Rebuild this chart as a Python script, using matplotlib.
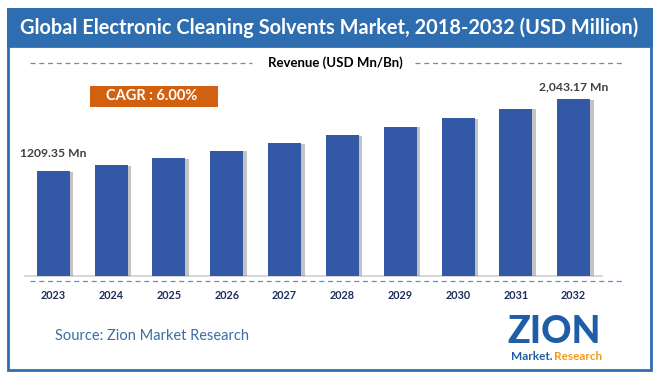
import matplotlib
matplotlib.use("Agg")
import matplotlib.pyplot as plt
import matplotlib.patches as patches
import matplotlib.patheffects as pe

# chart data
years = ["2023", "2024", "2025", "2026", "2027", "2028", "2029", "2030", "2031", "2032"]
revenue = [1209.35, 1282.0, 1362.0, 1447.0, 1535.0, 1627.0, 1722.0, 1823.0, 1930.0, 2043.17]
first_label = "1209.35 Mn"
last_label = "2,043.17 Mn"
title = "Global Electronic Cleaning Solvents Market, 2018-2032 (USD Million)"
cagr_text = "CAGR : 6.00%"
legend_text = "Revenue (USD Mn/Bn)"
source_text = "Source: Zion Market Research"

W, H = 658, 377
FONT = ["Lato", "DejaVu Sans"]

def fx(x):
    return x / W

def fy(y):
    return 1 - y / H

fig = plt.figure(figsize=(W / 100, H / 100), dpi=100)
fig.patch.set_facecolor("white")

border_blue = "#2E6EB0"

# outer frame + title band
fig.patches.append(patches.Rectangle((fx(7.5), fy(369.5)), fx(651) - fx(7.5), fy(8.5) - fy(369.5),
                                     transform=fig.transFigure, fill=False, edgecolor=border_blue, lw=2))
fig.patches.append(patches.Rectangle((fx(7.5), fy(45.5)), fx(651) - fx(7.5), fy(8.5) - fy(45.5),
                                     transform=fig.transFigure, facecolor=border_blue, edgecolor=border_blue, lw=2))
fig.text(fx(329.5), fy(27.5), title, color="white", fontsize=14.4, fontweight="bold",
         family=FONT, ha="center", va="center")

# legend-like line with text
dash_col = "#5B8ED6"
fig.add_artist(plt.Line2D([fx(30), fx(252)], [fy(63), fy(63)], color=dash_col, lw=0.9, ls=(0, (4, 3))))
fig.add_artist(plt.Line2D([fx(415), fx(622)], [fy(63), fy(63)], color=dash_col, lw=0.9, ls=(0, (4, 3))))
fig.text(fx(335), fy(62.5), legend_text, color="black", fontsize=9.5, fontweight="bold",
         family=FONT, ha="center", va="center")

# CAGR box
fig.patches.append(patches.Rectangle((fx(90), fy(106.5)), fx(217.5) - fx(90), fy(85.5) - fy(106.5),
                                     transform=fig.transFigure, facecolor="#D2610F", edgecolor="none"))
fig.text(fx(152), fy(96.5), cagr_text, color="white", fontsize=10.5, fontweight="bold",
         family=FONT, ha="center", va="center")

# bar axes
ax_left, ax_right, ax_bottom, ax_top = 25, 602, 275.7, 60
ax = fig.add_axes([fx(ax_left), fy(ax_bottom), fx(ax_right) - fx(ax_left), fy(ax_top) - fy(ax_bottom)])
x = list(range(len(years)))
bars = ax.bar(x, revenue, width=0.57, color="#3358A6", zorder=3)
for b in bars:
    b.set_path_effects([pe.SimplePatchShadow(offset=(2.5, -0.5), shadow_rgbFace="#7A7A7A", alpha=0.45),
                        pe.Normal()])
ax.set_xlim(-0.49, 9.49)
ax.set_ylim(0, 2043.17 * (ax_bottom - ax_top) / (ax_bottom - 99))
ax.set_xticks(x)
ax.set_xticklabels(years, fontsize=7.8, fontweight="bold", color="#1F2D5A", family=FONT)
ax.tick_params(axis="x", length=0, pad=10)
ax.set_yticks([])
for s in ["top", "right", "left"]:
    ax.spines[s].set_visible(False)
ax.spines["bottom"].set_color("#D0D0D0")
ax.spines["bottom"].set_linewidth(1.2)
ax.patch.set_alpha(0)

ax.annotate(first_label, (0, revenue[0]), xytext=(0, 9), textcoords="offset points",
            ha="center", va="bottom", fontsize=8.7, fontweight="bold", color="#404040", family=FONT)
ax.annotate(last_label, (9, revenue[-1]), xytext=(0, 5), textcoords="offset points",
            ha="center", va="bottom", fontsize=8.7, fontweight="bold", color="#404040", family=FONT)

# dashed line under the axis
fig.add_artist(plt.Line2D([fx(30), fx(622)], [fy(280.7), fy(280.7)], color=dash_col, lw=0.9, ls=(0, (4, 3))))

# source
fig.text(fx(55), fy(336), source_text, color="#3A6EA5", fontsize=10.5, family=FONT,
         ha="left", va="center")

# logo (text approximation)
fig.text(fx(554), fy(332), "ZION", color="#1F5DA8", fontsize=27, fontweight="black",
         family=FONT, ha="center", va="center")
fig.text(fx(532), fy(356), "Market.", color="#1F5DA8", fontsize=8.5, fontweight="bold",
         family=FONT, ha="center", va="center")
fig.text(fx(578), fy(356), "Research", color="#F39A1E", fontsize=8.5, fontweight="bold",
         family=FONT, ha="center", va="center")

fig.savefig("out.png", dpi=100)
